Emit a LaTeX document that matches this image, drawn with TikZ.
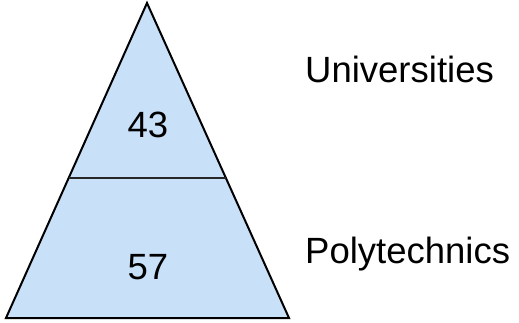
\documentclass[tikz,border=0pt]{standalone}
\usepackage{fontspec}
\setmainfont{Liberation Sans}
\usetikzlibrary{calc}
\definecolor{tierfill}{HTML}{C9E0F9}
\tikzset{
  tier/.style={draw=black, line width=2pt, fill=tierfill, line join=miter},
  divider/.style={draw=black!85, line width=2pt},
  lbl/.style={inner sep=0pt, font=\fontsize{36.5}{40}\selectfont},
}
\begin{document}
\begin{tikzpicture}[x=1pt,y=-1pt]
\useasboundingbox (0,0) rectangle (519,323);
\coordinate (A) at (147,3);
\coordinate (L) at (6,318);
\coordinate (R) at (289,318);
\draw[tier] (A) -- (L) -- (R) -- cycle;
\coordinate (DL) at ($(L)!0.444!(A)$);
\coordinate (DR) at ($(R)!0.444!(A)$);
\draw[divider] (DL) -- (DR);
\node[lbl, anchor=base] (n43) at (148,138) {43};
\node[lbl, anchor=base] (n57) at (148,279) {57};
\node[lbl, anchor=base west] (uni) at (305,83) {Universities};
\node[lbl, anchor=base west] (poly) at (305,263) {Polytechnics};
\end{tikzpicture}
\end{document}
